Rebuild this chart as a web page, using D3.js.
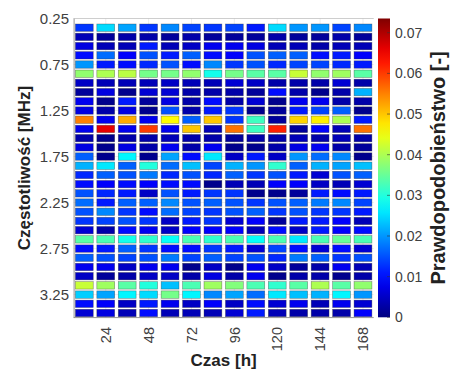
<!DOCTYPE html>
<html>
<head>
<meta charset="utf-8">
<script src="https://cdn.jsdelivr.net/npm/d3@7"></script>
<style>
  body { margin: 0; background: #fff; }
  svg { display: block; font-family: "Liberation Sans", Arial, sans-serif; }
</style>
</head>
<body>
<div id="chart"></div>
<script>
// categories: time bins (h) and frequency bins (MHz, bin centres)
const timeHours = [12, 24, 36, 48, 60, 72, 84, 96, 108, 120, 132, 144, 156, 168];
const freqMHz = [0.35, 0.45, 0.55, 0.65, 0.75, 0.85, 0.95, 1.05, 1.15, 1.25, 1.35, 1.45, 1.55, 1.65, 1.75, 1.85,
                 1.95, 2.05, 2.15, 2.25, 2.35, 2.45, 2.55, 2.65, 2.75, 2.85, 2.95, 3.05, 3.15, 3.25, 3.35, 3.45];

// probability per frequency row (one value per time bin)
const probability = [
  [0.013, 0.025, 0.021, 0.013, 0.019, 0.014, 0.013, 0.014, 0.011, 0.025, 0.020, 0.020, 0.014, 0.019],
  [0.004, 0.002, 0.003, 0.003, 0.002, 0.003, 0.002, 0.002, 0.002, 0.003, 0.002, 0.002, 0.003, 0.002],
  [0.007, 0.004, 0.004, 0.011, 0.004, 0.005, 0.008, 0.008, 0.007, 0.004, 0.004, 0.003, 0.004, 0.004],
  [0.010, 0.017, 0.009, 0.015, 0.011, 0.016, 0.010, 0.009, 0.015, 0.016, 0.016, 0.010, 0.011, 0.009],
  [0.020, 0.011, 0.010, 0.012, 0.015, 0.010, 0.019, 0.013, 0.015, 0.012, 0.014, 0.014, 0.012, 0.011],
  [0.038, 0.040, 0.041, 0.036, 0.036, 0.038, 0.029, 0.036, 0.034, 0.034, 0.042, 0.038, 0.039, 0.034],
  [0.005, 0.004, 0.004, 0.004, 0.005, 0.004, 0.004, 0.006, 0.005, 0.003, 0.003, 0.003, 0.006, 0.003],
  [0.002, 0.007, 0.001, 0.006, 0.006, 0.003, 0.003, 0.003, 0.002, 0.010, 0.003, 0.001, 0.003, 0.022],
  [0.008, 0.001, 0.011, 0.002, 0.007, 0.003, 0.010, 0.003, 0.006, 0.001, 0.008, 0.008, 0.003, 0.003],
  [0.007, 0.003, 0.007, 0.001, 0.015, 0.003, 0.011, 0.013, 0.001, 0.002, 0.011, 0.014, 0.016, 0.001],
  [0.055, 0.008, 0.052, 0.008, 0.046, 0.016, 0.050, 0.013, 0.032, 0.002, 0.049, 0.047, 0.040, 0.011],
  [0.008, 0.066, 0.008, 0.060, 0.008, 0.050, 0.004, 0.056, 0.032, 0.062, 0.002, 0.009, 0.004, 0.056],
  [0.003, 0.001, 0.003, 0.003, 0.004, 0.003, 0.003, 0.002, 0.003, 0.003, 0.004, 0.003, 0.004, 0.003],
  [0.007, 0.001, 0.007, 0.003, 0.008, 0.003, 0.008, 0.001, 0.001, 0.003, 0.007, 0.008, 0.003, 0.002],
  [0.016, 0.001, 0.027, 0.001, 0.021, 0.010, 0.026, 0.005, 0.011, 0.005, 0.020, 0.017, 0.019, 0.001],
  [0.022, 0.026, 0.016, 0.030, 0.017, 0.023, 0.014, 0.022, 0.020, 0.031, 0.016, 0.022, 0.021, 0.023],
  [0.012, 0.016, 0.015, 0.018, 0.012, 0.015, 0.012, 0.016, 0.013, 0.015, 0.011, 0.006, 0.015, 0.016],
  [0.010, 0.009, 0.010, 0.009, 0.010, 0.010, 0.001, 0.004, 0.004, 0.009, 0.009, 0.005, 0.004, 0.006],
  [0.015, 0.012, 0.011, 0.005, 0.015, 0.011, 0.013, 0.013, 0.001, 0.001, 0.002, 0.011, 0.010, 0.011],
  [0.017, 0.011, 0.016, 0.016, 0.019, 0.015, 0.016, 0.015, 0.013, 0.015, 0.016, 0.018, 0.019, 0.014],
  [0.015, 0.019, 0.013, 0.010, 0.017, 0.014, 0.013, 0.015, 0.016, 0.013, 0.015, 0.013, 0.013, 0.011],
  [0.013, 0.014, 0.015, 0.013, 0.005, 0.011, 0.013, 0.006, 0.009, 0.002, 0.011, 0.011, 0.009, 0.004],
  [0.006, 0.003, 0.010, 0.008, 0.005, 0.009, 0.009, 0.009, 0.004, 0.010, 0.005, 0.011, 0.009, 0.010],
  [0.034, 0.033, 0.029, 0.031, 0.028, 0.033, 0.031, 0.033, 0.028, 0.033, 0.026, 0.033, 0.035, 0.033],
  [0.010, 0.011, 0.016, 0.013, 0.010, 0.010, 0.013, 0.011, 0.006, 0.014, 0.010, 0.006, 0.010, 0.006],
  [0.016, 0.015, 0.014, 0.015, 0.018, 0.014, 0.016, 0.014, 0.015, 0.012, 0.018, 0.016, 0.013, 0.015],
  [0.008, 0.008, 0.005, 0.008, 0.008, 0.001, 0.005, 0.001, 0.008, 0.005, 0.002, 0.003, 0.008, 0.004],
  [0.005, 0.002, 0.003, 0.005, 0.005, 0.003, 0.007, 0.003, 0.008, 0.001, 0.003, 0.003, 0.001, 0.003],
  [0.042, 0.039, 0.034, 0.030, 0.023, 0.033, 0.039, 0.037, 0.033, 0.031, 0.034, 0.040, 0.034, 0.038],
  [0.024, 0.021, 0.027, 0.025, 0.036, 0.027, 0.019, 0.021, 0.017, 0.026, 0.023, 0.022, 0.027, 0.020],
  [0.010, 0.009, 0.005, 0.011, 0.008, 0.005, 0.009, 0.005, 0.010, 0.006, 0.008, 0.004, 0.008, 0.006],
  [0.006, 0.007, 0.004, 0.010, 0.004, 0.004, 0.004, 0.006, 0.011, 0.004, 0.003, 0.003, 0.003, 0.009]
];

// tick labels
const xTicks = [24, 48, 72, 96, 120, 144, 168];
const yTicks = [0.25, 0.75, 1.25, 1.75, 2.25, 2.75, 3.25];
const cbTicks = [0, 0.01, 0.02, 0.03, 0.04, 0.05, 0.06, 0.07];
const cbMax = 0.0735;

const width = 457;
const height = 372;

// plot area
const plotLeft = 73.6, plotRight = 373.7, plotTop = 18.5, plotBottom = 317.6;

// MATLAB-style jet colormap
function jet(t) {
  t = Math.max(0, Math.min(1, t));
  const c = (v) => Math.round(255 * Math.max(0, Math.min(1, v)));
  const r = 1.5 - Math.abs(4 * t - 3);
  const g = 1.5 - Math.abs(4 * t - 2);
  const b = 1.5 - Math.abs(4 * t - 1);
  return `rgb(${c(r)},${c(g)},${c(b)})`;
}

const svg = d3.select("#chart")
  .append("svg")
  .attr("width", width)
  .attr("height", height);

const x = d3.scaleLinear().domain([6, 174]).range([plotLeft, plotRight]);
const y = d3.scaleLinear().domain([0.25, 3.5]).range([plotTop, plotBottom]);
const color = (v) => jet(v / cbMax);

// grid lines (behind the cells)
svg.append("g")
  .selectAll("line.hgrid")
  .data(yTicks)
  .join("line")
  .attr("x1", plotLeft).attr("x2", plotRight)
  .attr("y1", d => y(d)).attr("y2", d => y(d))
  .attr("stroke", "#262626").attr("stroke-opacity", 0.15).attr("stroke-width", 0.6);

svg.append("g")
  .selectAll("line.vgrid")
  .data(xTicks)
  .join("line")
  .attr("x1", d => x(d)).attr("x2", d => x(d))
  .attr("y1", plotTop).attr("y2", plotBottom)
  .attr("stroke", "#262626").attr("stroke-opacity", 0.15).attr("stroke-width", 0.6);

// cells
const cells = [];
freqMHz.forEach((f, i) => {
  timeHours.forEach((t, j) => {
    cells.push({ f, t, v: probability[i][j] });
  });
});

const colGap = 3.6, rowGap = 1.8;
svg.append("g")
  .selectAll("rect")
  .data(cells)
  .join("rect")
  .attr("x", d => x(d.t - 6) + colGap / 2)
  .attr("y", d => y(d.f - 0.05) + rowGap / 2)
  .attr("width", d => x(d.t + 6) - x(d.t - 6) - colGap)
  .attr("height", d => y(d.f + 0.05) - y(d.f - 0.05) - rowGap)
  .attr("fill", d => color(d.v))
  .attr("stroke", "#333")
  .attr("stroke-opacity", 0.55)
  .attr("stroke-width", 0.6);

// axis lines
svg.append("line")
  .attr("x1", plotLeft + 0.5).attr("x2", plotLeft + 0.5)
  .attr("y1", plotTop).attr("y2", plotBottom)
  .attr("stroke", "#777").attr("stroke-width", 0.8);
svg.append("line")
  .attr("x1", plotLeft).attr("x2", plotRight)
  .attr("y1", plotBottom).attr("y2", plotBottom)
  .attr("stroke", "#777").attr("stroke-width", 0.8);
svg.append("line")
  .attr("x1", plotLeft).attr("x2", plotRight)
  .attr("y1", plotTop).attr("y2", plotTop)
  .attr("stroke", "#bbb").attr("stroke-width", 0.6);

// y tick labels
svg.append("g")
  .selectAll("text")
  .data(yTicks)
  .join("text")
  .attr("x", 69)
  .attr("y", d => y(d))
  .attr("dy", "0.36em")
  .attr("text-anchor", "end")
  .attr("font-size", "15px")
  .attr("fill", "#404040")
  .text(d => d.toFixed(2));

// x tick labels (rotated)
svg.append("g")
  .selectAll("text")
  .data(xTicks)
  .join("text")
  .attr("transform", d => `translate(${x(d)},327) rotate(-90)`)
  .attr("dy", "0.36em")
  .attr("text-anchor", "end")
  .attr("font-size", "14.5px")
  .attr("fill", "#404040")
  .text(d => d);

// axis titles
svg.append("text")
  .attr("x", (plotLeft + plotRight) / 2)
  .attr("y", 366)
  .attr("text-anchor", "middle")
  .attr("font-size", "17px")
  .attr("font-weight", "bold")
  .attr("fill", "#222")
  .text("Czas [h]");

svg.append("text")
  .attr("transform", `translate(30,${(plotTop + plotBottom) / 2}) rotate(-90)`)
  .attr("text-anchor", "middle")
  .attr("font-size", "17px")
  .attr("font-weight", "bold")
  .attr("fill", "#222")
  .text("Częstotliwość [MHz]");

// colorbar
const cbLeft = 378, cbWidth = 12, cbTop = 18.5, cbBottom = 317.3;
const cbScale = d3.scaleLinear().domain([0, cbMax]).range([cbBottom, cbTop]);

const defs = svg.append("defs");
const grad = defs.append("linearGradient")
  .attr("id", "jet-grad")
  .attr("x1", 0).attr("y1", 1).attr("x2", 0).attr("y2", 0);
grad.selectAll("stop")
  .data(d3.range(0, 1.0001, 0.05))
  .join("stop")
  .attr("offset", d => d)
  .attr("stop-color", d => jet(d));

svg.append("rect")
  .attr("x", cbLeft)
  .attr("y", cbTop)
  .attr("width", cbWidth)
  .attr("height", cbBottom - cbTop)
  .attr("fill", "url(#jet-grad)");

svg.append("g")
  .selectAll("line")
  .data(cbTicks)
  .join("line")
  .attr("x1", cbLeft + cbWidth - 3).attr("x2", cbLeft + cbWidth)
  .attr("y1", d => cbScale(d)).attr("y2", d => cbScale(d))
  .attr("stroke", "#333").attr("stroke-width", 0.6);

svg.append("g")
  .selectAll("text")
  .data(cbTicks)
  .join("text")
  .attr("x", 395)
  .attr("y", d => cbScale(d))
  .attr("dy", "0.36em")
  .attr("font-size", "14px")
  .attr("fill", "#404040")
  .text(d => d === 0 ? "0" : d.toFixed(2));

svg.append("text")
  .attr("transform", `translate(445,${(cbTop + cbBottom) / 2}) rotate(-90)`)
  .attr("text-anchor", "middle")
  .attr("font-size", "20px")
  .attr("font-weight", "bold")
  .attr("fill", "#222")
  .text("Prawdopodobieństwo [-]");
</script>
</body>
</html>
